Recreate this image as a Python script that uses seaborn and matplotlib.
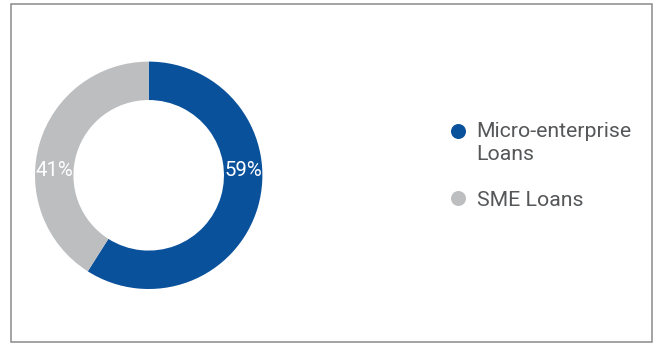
import matplotlib
matplotlib.use("Agg")
import matplotlib.pyplot as plt
import seaborn as sns
from matplotlib.lines import Line2D
from matplotlib.patches import Rectangle

# Loan portfolio split
categories = ["Micro-enterprise\nLoans", "SME Loans"]
shares = [59, 41]
colors = ["#0A519C", "#BDBEC0"]

sns.set_theme(style="white")
plt.rcParams["font.family"] = ["Roboto", "DejaVu Sans"]

W, H = 659, 345
fig = plt.figure(figsize=(W / 100, H / 100), dpi=100)
fig.patch.set_facecolor("white")

# Outer frame
fig.patches.append(Rectangle((10.5 / W, 3.5 / H), (651.5 - 10.5) / W, (341.5 - 3.5) / H,
                             transform=fig.transFigure, fill=False,
                             edgecolor="#8A8A8A", linewidth=1.1))

# Donut axes: radius 1 -> ~113.7 px, centre at (148.7, 175.3) from top-left
cx, cy, R = 148.7, H - 175.3, 113.7
ax = fig.add_axes([(cx - R) / W, (cy - R) / H, 2 * R / W, 2 * R / H])
ring = 0.338
ax.pie(shares, colors=colors, startangle=90, counterclock=False,
       wedgeprops=dict(width=ring, linewidth=0))
ax.set_xlim(-1, 1)
ax.set_ylim(-1, 1)
ax.set_aspect("equal")
ax.axis("off")

# Percentage labels sit on the ring's mid-radius, right and left
mid = 1 - ring / 2
for side, v in zip([1, -1], shares):
    ax.text(side * mid, 0.04, f"{v}%", color="white", fontsize=14.7,
            ha="center", va="center")

fs = 15.3
handles = [Line2D([], [], marker="o", linestyle="none", markersize=10.8,
                  markerfacecolor=c, markeredgewidth=0) for c in colors]
leg = fig.legend(handles, categories, loc="upper left",
                 bbox_to_anchor=(447.1 / W, 1 - 122 / H),
                 frameon=False, fontsize=fs, handlelength=1.0,
                 handletextpad=0.39, labelspacing=1.25, borderpad=0,
                 borderaxespad=0)
for t in leg.get_texts():
    t.set_color("#555759")
    t.set_linespacing(1.28)

# Align the first marker with the first line of its two-line label
h0 = leg.legend_handles[0]
h0.set_ydata([y + 12 * 0.72 for y in h0.get_ydata()])

fig.savefig("out.png", dpi=100)
